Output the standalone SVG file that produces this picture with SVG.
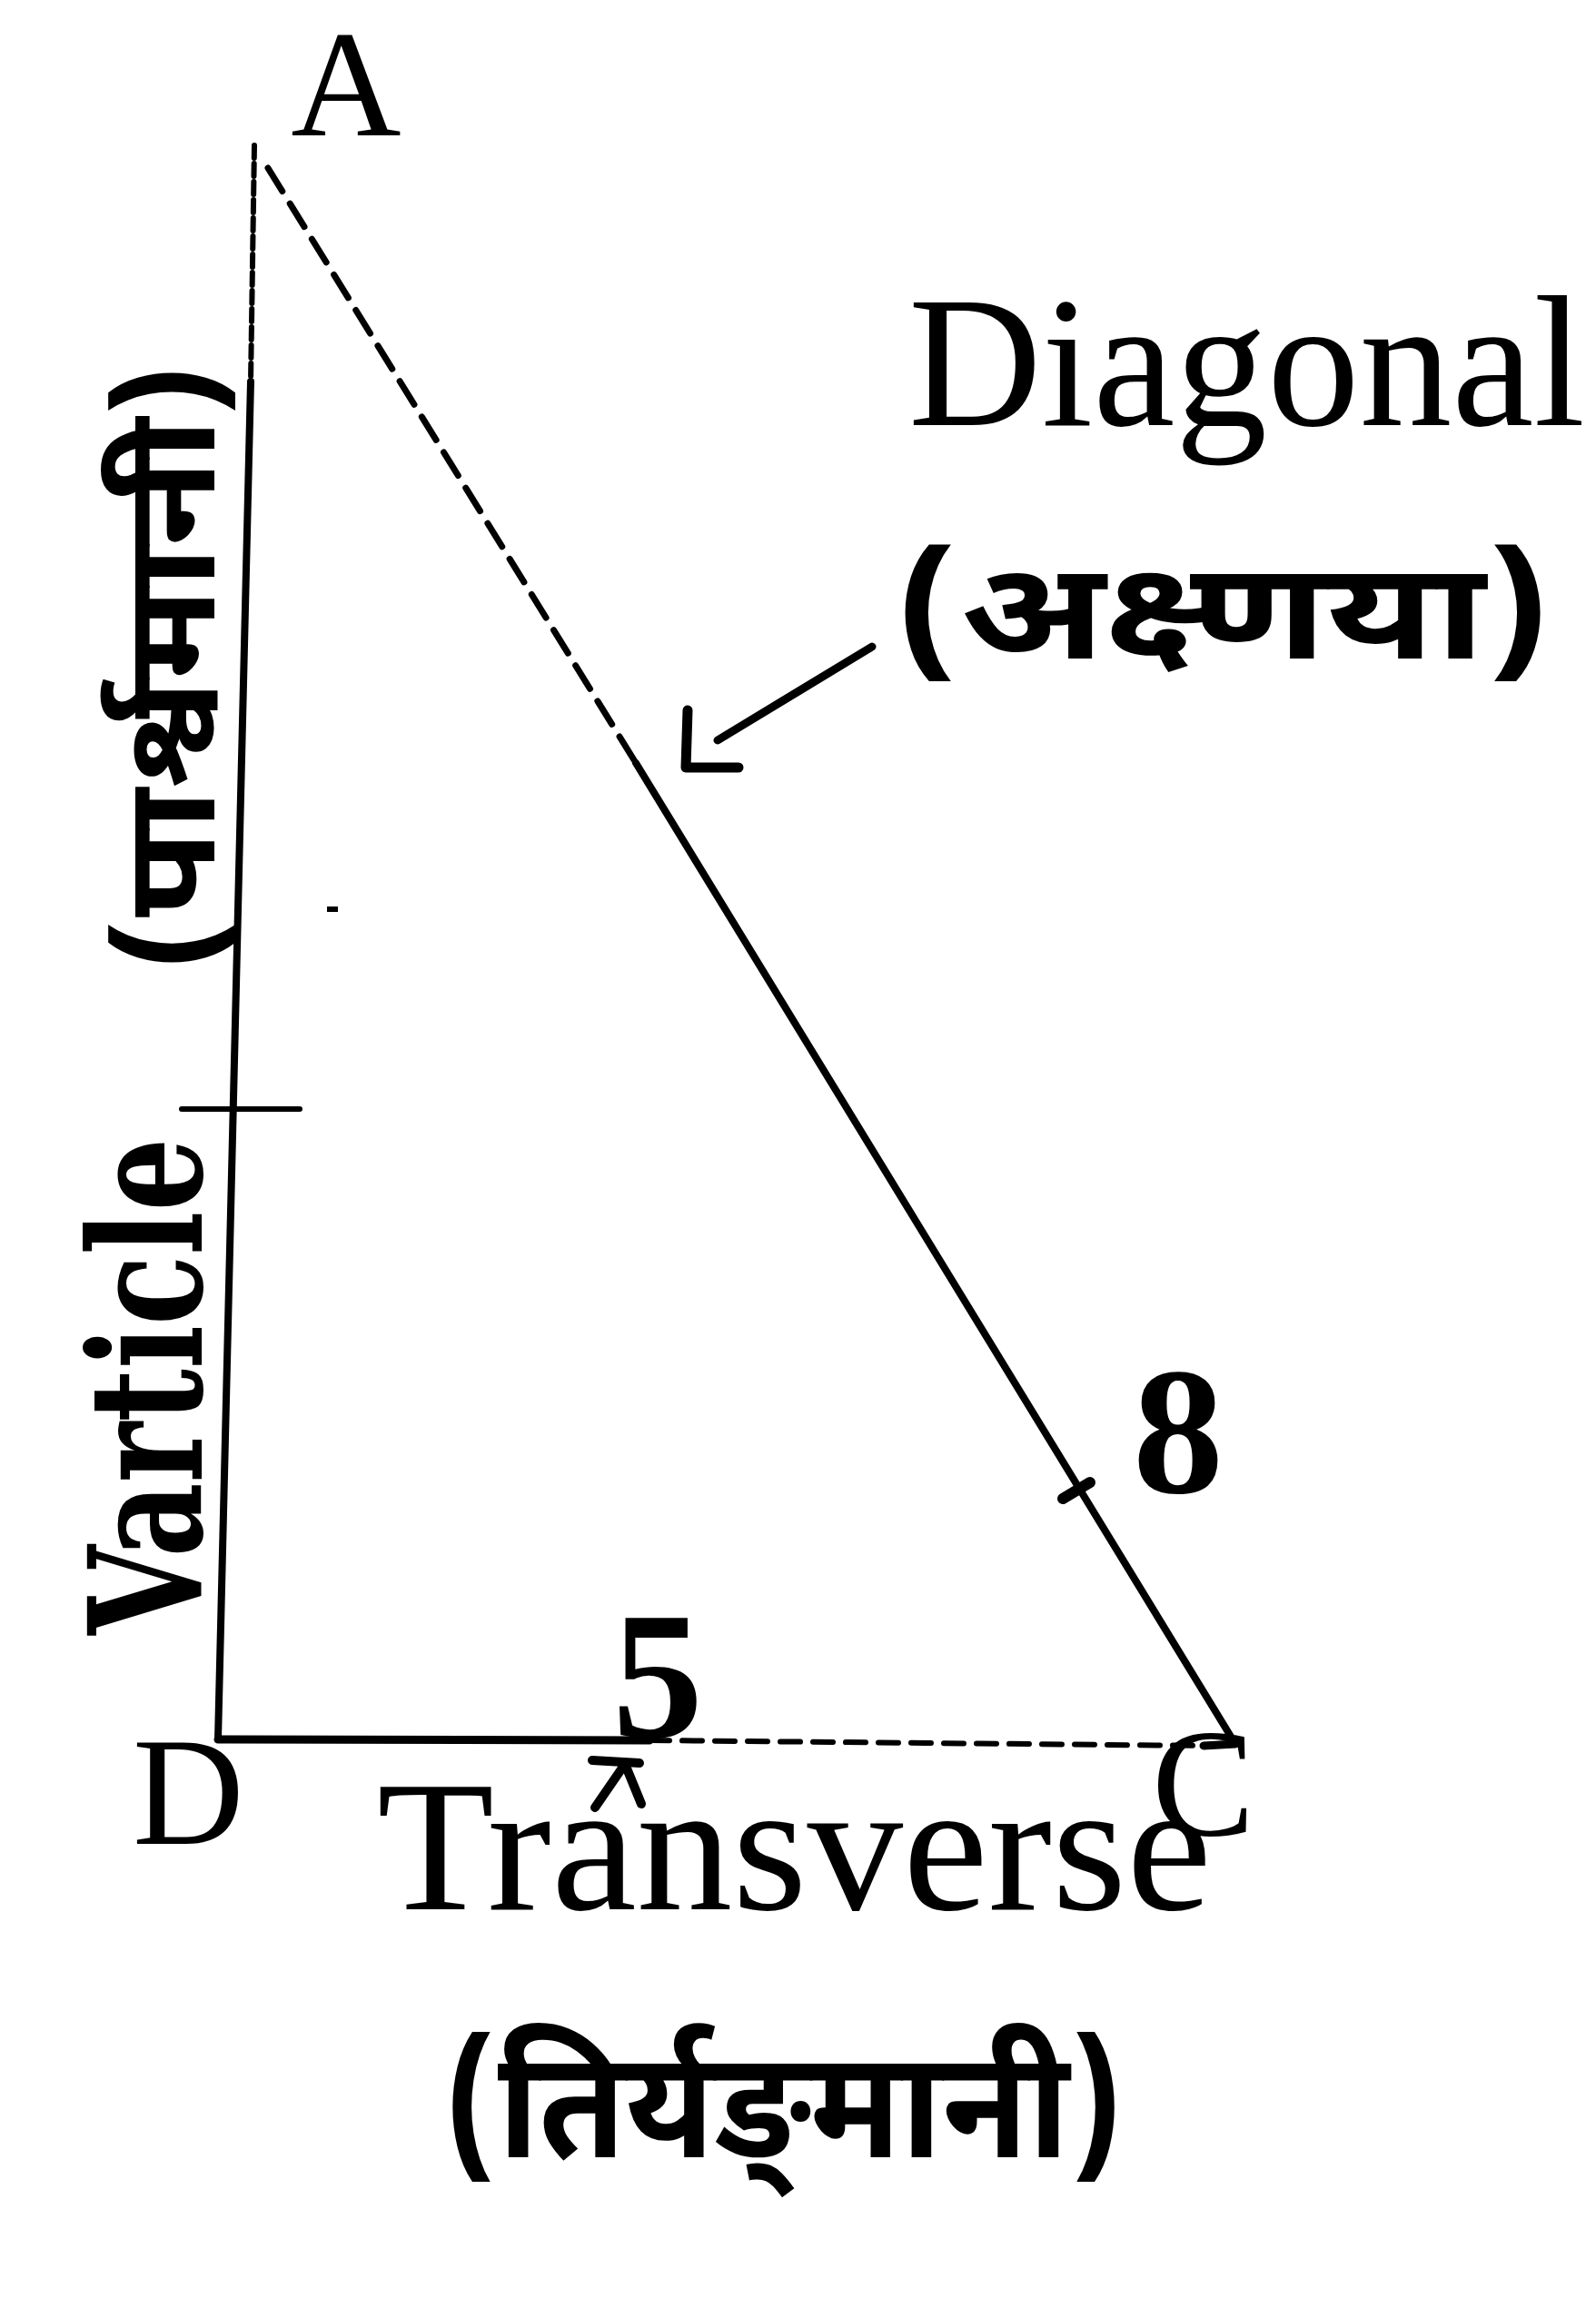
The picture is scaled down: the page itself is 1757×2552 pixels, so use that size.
<svg xmlns="http://www.w3.org/2000/svg" width="1757" height="2552" viewBox="0 0 1757 2552">
<style>
.ln{stroke:#000;fill:none;stroke-linecap:round;stroke-linejoin:round}
.lat{font-family:"Liberation Serif","Times New Roman",serif;fill:#000}
.cond{font-family:"DejaVu Serif Condensed","DejaVu Serif","Liberation Serif",serif;font-stretch:condensed;font-weight:bold;fill:#000}
.dev{font-family:"Noto Sans Devanagari","Noto Serif Devanagari","Lohit Devanagari","Noto Sans",sans-serif;fill:#000;font-weight:bold}
</style>
<rect width="1757" height="2552" fill="#fff"/>
<g id="connectors">
  <path class="ln" d="M 280 160 L 276 420" stroke-width="6" stroke-dasharray="14 6"/>
  <path class="ln" d="M 276 420 L 240 1915" stroke-width="8"/>
  <path class="ln" d="M 200 1221 L 330 1221" stroke-width="6"/>
  <path class="ln" d="M 240 1915 L 715 1916" stroke-width="9"/>
  <path class="ln" d="M 715 1916 L 1330 1922" stroke-width="6" stroke-dasharray="22 14"/>
  <path class="ln" d="M 1325 1922 L 1360 1920" stroke-width="9"/>
  <path class="ln" d="M 295 185 L 700 840" stroke-width="7" stroke-dasharray="30 16"/>
  <path class="ln" d="M 700 840 L 1360 1920" stroke-width="8"/>
  <path class="ln" d="M 1170 1650 L 1200 1632" stroke-width="12"/>
  <path class="ln" d="M 960 712 L 790 815" stroke-width="9"/>
  <path class="ln" d="M 757 782 L 755 845 L 813 845" stroke-width="11"/>
  <path class="ln" d="M 655 1990 L 688 1942 L 706 1986 M 652 1938 L 704 1941" stroke-width="10"/>
  <rect x="360" y="998" width="12" height="6" fill="#000"/>
</g>
<g id="node-A"><text class="lat" x="381" y="149" font-size="168" text-anchor="middle">A</text></g>
<g id="node-D"><text class="lat" x="146" y="2030" font-size="170">D</text></g>
<g id="node-C"><text class="lat" x="1268" y="2020" font-size="170">C</text></g>
<g id="label-diagonal">
  <text class="lat" x="1000" y="468" font-size="205" textLength="745" lengthAdjust="spacingAndGlyphs">Diagonal</text>
  <text class="dev" x="984" y="725" font-size="150" textLength="724" lengthAdjust="spacingAndGlyphs">(अक्ष्णया)</text>
</g>
<g id="label-8"><text class="lat" x="1297" y="1643" font-size="200" font-weight="bold" text-anchor="middle">8</text></g>
<g id="label-5"><text class="lat" x="724" y="1912" font-size="200" font-weight="bold" text-anchor="middle">5</text></g>
<g id="label-transverse">
  <text class="lat" x="415" y="2102" font-size="205" textLength="919" lengthAdjust="spacingAndGlyphs">Transverse</text>
  <text class="dev" x="488" y="2375" font-size="165" textLength="749" lengthAdjust="spacingAndGlyphs">(तिर्यङ्‌मानी)</text>
</g>
<g id="label-varticle">
  <text class="cond" transform="translate(222,1800) rotate(-90)" font-size="172" textLength="547" lengthAdjust="spacingAndGlyphs">Varticle</text>
  <text class="dev" transform="translate(236,1070) rotate(-90)" font-size="140" textLength="670" lengthAdjust="spacingAndGlyphs">(पार्श्वमानी)</text>
</g>
</svg>
